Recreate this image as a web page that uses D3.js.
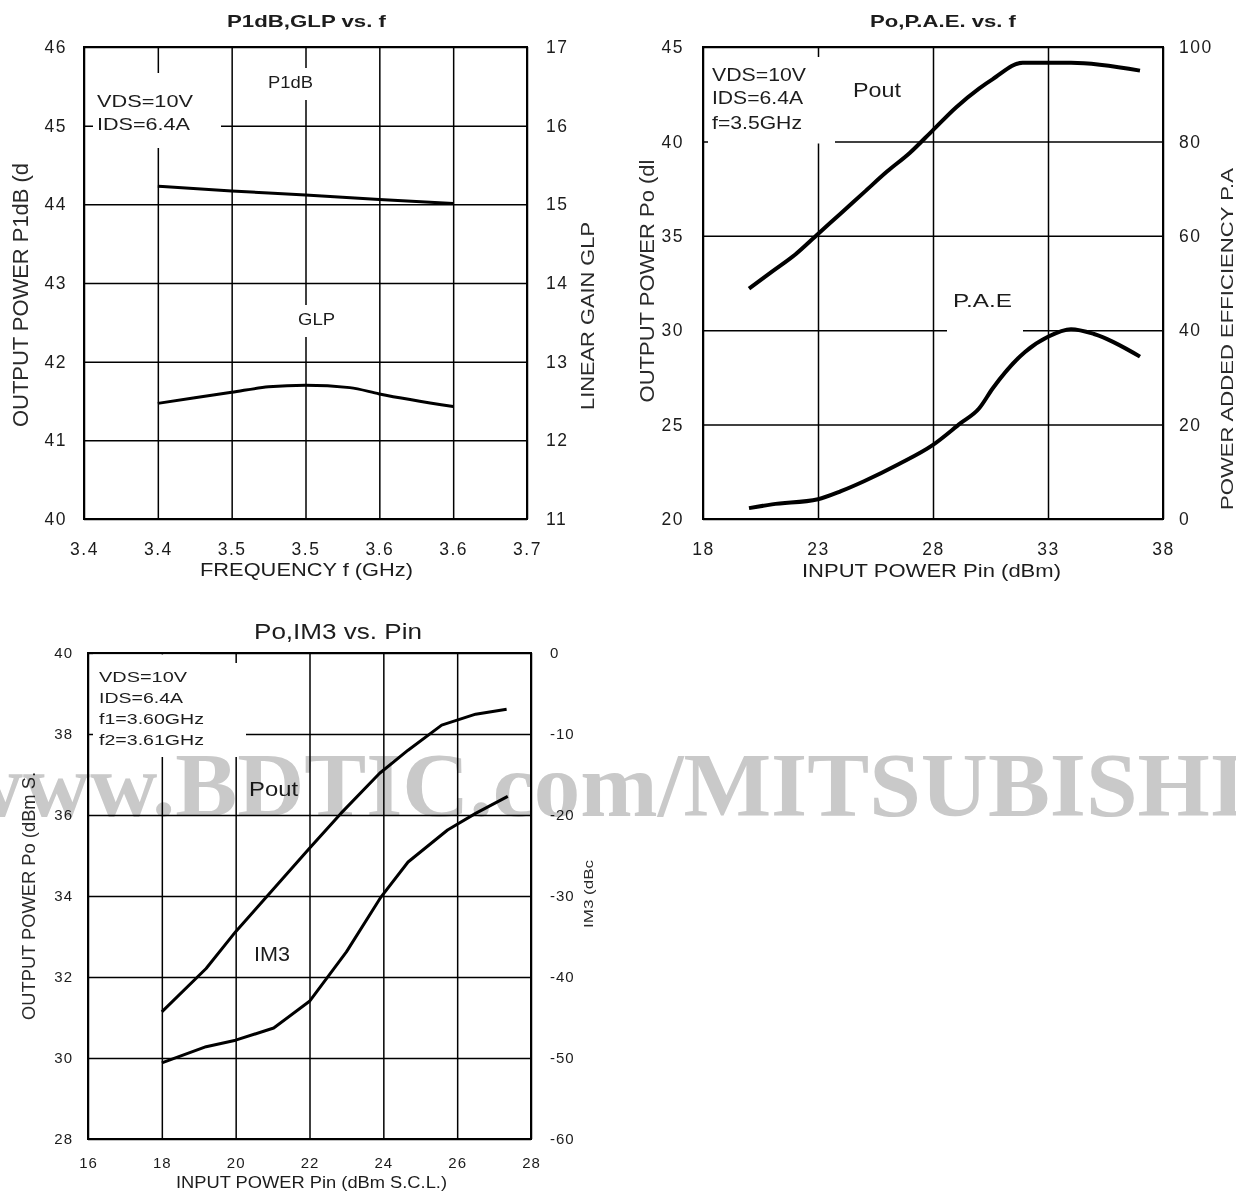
<!DOCTYPE html>
<html><head><meta charset="utf-8">
<script src="https://cdn.jsdelivr.net/npm/d3@7"></script>
<style>
body{margin:0;background:#fff}
svg{display:block}
</style>
</head><body>
<svg id="c" width="1236" height="1192"></svg>
<script>
// ---------- Chart 1 : P1dB, GLP vs. f ----------
const c1FreqTicks = [3.35, 3.40, 3.45, 3.50, 3.55, 3.60, 3.65];
const c1FreqLabels = ["3.4", "3.4", "3.5", "3.5", "3.6", "3.6", "3.7"];
const c1P1dBTicks = [40, 41, 42, 43, 44, 45, 46];
const c1GLPTicks = [11, 12, 13, 14, 15, 16, 17];
const p1dbFreq = [3.40, 3.45, 3.50, 3.55, 3.60];
const p1dbValues = [44.23, 44.17, 44.12, 44.06, 44.01];
const glpFreq = [3.40, 3.45, 3.475, 3.50, 3.53, 3.55, 3.60];
const glpValues = [12.47, 12.61, 12.68, 12.70, 12.67, 12.59, 12.43];

// ---------- Chart 2 : Po, P.A.E. vs. Pin ----------
const c2PinTicks = [18, 23, 28, 33, 38];
const c2PoTicks = [20, 25, 30, 35, 40, 45];
const c2PAETicks = [0, 20, 40, 60, 80, 100];
const poutPin = [20, 21, 22, 23, 24, 25, 26, 27, 28, 29, 30, 30.6, 31.9, 34, 37];
const poutValues = [32.2, 33.1, 34.0, 35.1, 36.2, 37.3, 38.4, 39.4, 40.6, 41.8, 42.8, 43.3, 44.17, 44.17, 43.75];
const paePin = [20, 21, 23, 24, 25, 26.5, 28, 29.2, 30, 30.6, 32, 33, 34, 35, 37];
const paeValues = [2.3, 3.1, 4.2, 5.9, 8.0, 11.6, 15.7, 20.3, 23.4, 27.7, 35.4, 38.6, 40.2, 39.2, 34.4];

// ---------- Chart 3 : Po, IM3 vs. Pin ----------
const c3PinTicks = [16, 18, 20, 22, 24, 26, 28];
const c3PoTicks = [28, 30, 32, 34, 36, 38, 40];
const c3IM3Ticks = [-60, -50, -40, -30, -20, -10, 0];
const imPoutPin = [18, 19.2, 20, 21, 22, 22.85, 23.9, 24.67, 25.58, 26.5, 27.34];
const imPoutValues = [31.14, 32.21, 33.12, 34.15, 35.18, 36.04, 37.03, 37.6, 38.22, 38.49, 38.61];
const im3Pin = [18, 19.2, 20, 21.03, 22, 23, 23.94, 24.67, 25.74, 26.5, 27.37];
const im3Values = [-50.6, -48.6, -47.8, -46.3, -43.0, -36.9, -30.1, -25.8, -21.85, -19.8, -17.7];

const SANS = "'Liberation Sans',Arial,sans-serif";
const svg = d3.select("#c");

function grid(cfg) {
  const g = svg.append("g");
  const [x0, x1] = cfg.x.range();
  const [yb, yt] = cfg.yL.range();
  const style = (sel, fs, ls) => {
    sel.select(".domain").remove();
    sel.selectAll("line").attr("stroke", "#000").attr("stroke-width", 1.5);
    sel.selectAll("text").style("font-size", fs + "px").style("letter-spacing", ls + "px")
      .style("fill", "#1c1c1c").style("font-family", SANS);
  };
  const fmt = d => String(d);
  g.append("g").attr("transform", `translate(0,${yb})`)
    .call(d3.axisBottom(cfg.x).tickValues(cfg.xTicks)
      .tickFormat((d, i) => cfg.xLabels ? cfg.xLabels[i] : fmt(d))
      .tickSize(-(yb - yt)).tickPadding(cfg.xPad))
    .call(s => style(s, cfg.fs, cfg.ls));
  g.append("g").attr("transform", `translate(${x0},0)`)
    .call(d3.axisLeft(cfg.yL).tickValues(cfg.yLTicks).tickFormat(fmt)
      .tickSize(-(x1 - x0)).tickPadding(cfg.yLPad))
    .call(s => style(s, cfg.fs, cfg.ls));
  g.append("g").attr("transform", `translate(${x1},0)`)
    .call(d3.axisRight(cfg.yR).tickValues(cfg.yRTicks).tickFormat(fmt)
      .tickSize(0).tickPadding(cfg.yRPad))
    .call(s => style(s, cfg.fs, cfg.ls));
  g.append("rect").attr("x", x0).attr("y", yt).attr("width", x1 - x0).attr("height", yb - yt)
    .attr("fill", "none").attr("stroke", "#000").attr("stroke-width", 2);
  return g;
}
function box(x, y, w, h) {
  svg.append("rect").attr("x", x).attr("y", y).attr("width", w).attr("height", h).attr("fill", "#fff");
}
function label(t, x, y, w, fs, bold) {
  svg.append("text").attr("x", x).attr("y", y)
    .style("font-family", SANS).style("font-size", fs + "px").style("fill", "#1c1c1c")
    .style("font-weight", bold ? "bold" : "normal")
    .attr("textLength", w).attr("lengthAdjust", "spacingAndGlyphs").text(t);
}
function vlabel(t, cx, cy, len, fs, sx) {
  svg.append("g").attr("transform", `translate(${cx},${cy}) scale(${sx},1) rotate(-90)`)
    .append("text").attr("text-anchor", "middle").attr("dy", "0.36em")
    .style("font-family", SANS).style("font-size", fs + "px").style("fill", "#2a2a2a")
    .attr("textLength", len).attr("lengthAdjust", "spacingAndGlyphs").text(t);
}
function curve(x, y, xs, ys, w, cv) {
  svg.append("path").datum(xs.map((d, i) => [d, ys[i]]))
    .attr("fill", "none").attr("stroke", "#000").attr("stroke-width", w)
    .attr("stroke-linejoin", "round").attr("stroke-linecap", "butt")
    .attr("d", d3.line().x(d => x(d[0])).y(d => y(d[1])).curve(cv));
}

// ===== Chart 1 =====
const x1s = d3.scaleLinear().domain([3.35, 3.65]).range([84, 527]);
const y1L = d3.scaleLinear().domain([40, 46]).range([519, 47]);
const y1R = d3.scaleLinear().domain([11, 17]).range([519, 47]);
grid({x: x1s, yL: y1L, yR: y1R, xTicks: c1FreqTicks, xLabels: c1FreqLabels,
  yLTicks: c1P1dBTicks, yRTicks: c1GLPTicks, xPad: 23.5, yLPad: 17, yRPad: 19, fs: 17.5, ls: 1.5});
box(93, 73, 128, 75);
box(266, 68, 48, 32);
box(294, 305, 46, 32);
curve(x1s, y1L, p1dbFreq, p1dbValues, 3, d3.curveMonotoneX);
curve(x1s, y1R, glpFreq, glpValues, 3, d3.curveMonotoneX);
label("P1dB,GLP vs. f", 227, 27, 159, 17, true);
label("VDS=10V", 97, 107, 96, 17);
label("IDS=6.4A", 97, 130, 93, 17);
label("P1dB", 268, 88, 45, 16);
label("GLP", 298, 325, 37, 16);
label("FREQUENCY f (GHz)", 200, 576, 213, 18);
vlabel("OUTPUT POWER P1dB (d", 20, 295, 264, 15.5, 1.42);
vlabel("LINEAR GAIN GLP", 587, 316, 188, 15.5, 1.2);

// ===== Chart 2 =====
const x2s = d3.scaleLinear().domain([18, 38]).range([703, 1163]);
const y2L = d3.scaleLinear().domain([20, 45]).range([519, 47]);
const y2R = d3.scaleLinear().domain([0, 100]).range([519, 47]);
grid({x: x2s, yL: y2L, yR: y2R, xTicks: c2PinTicks, xLabels: null,
  yLTicks: c2PoTicks, yRTicks: c2PAETicks, xPad: 23.5, yLPad: 19, yRPad: 16, fs: 17.5, ls: 1.5});
box(708, 57, 127, 86.5);
box(947, 285, 76, 48);
curve(x2s, y2L, poutPin, poutValues, 4, d3.curveMonotoneX);
curve(x2s, y2R, paePin, paeValues, 4, d3.curveMonotoneX);
label("Po,P.A.E. vs. f", 870, 27, 146, 17, true);
label("VDS=10V", 712, 81, 94, 17.5);
label("IDS=6.4A", 712, 104, 91, 17.5);
label("f=3.5GHz", 712, 129, 90, 17.5);
label("Pout", 853, 97, 48, 20);
label("P.A.E", 953, 307, 59, 19);
label("INPUT POWER Pin (dBm)", 802, 577, 259, 18);
vlabel("OUTPUT POWER Po (dl", 647, 281, 243, 15.5, 1.26);
vlabel("POWER ADDED EFFICIENCY P.A", 1227, 339, 342, 15.5, 1.1);

// ===== Chart 3 =====
const x3s = d3.scaleLinear().domain([16, 28]).range([88, 531]);
const y3L = d3.scaleLinear().domain([28, 40]).range([1139, 653]);
const y3R = d3.scaleLinear().domain([-60, 0]).range([1139, 653]);
grid({x: x3s, yL: y3L, yR: y3R, xTicks: c3PinTicks, xLabels: null,
  yLTicks: c3PoTicks, yRTicks: c3IM3Ticks, xPad: 18.5, yLPad: 15, yRPad: 19, fs: 15, ls: 1});
box(93, 663, 153, 94);
box(93, 654.5, 107, 9);
curve(x3s, y3L, imPoutPin, imPoutValues, 3, d3.curveLinear);
curve(x3s, y3R, im3Pin, im3Values, 3, d3.curveLinear);
label("Po,IM3 vs. Pin", 254, 639, 168, 22);
label("VDS=10V", 99, 682, 88, 15);
label("IDS=6.4A", 99, 703, 84, 15);
label("f1=3.60GHz", 99, 724, 105, 15);
label("f2=3.61GHz", 99, 745, 105, 15);
label("Pout", 249, 796, 49, 21);
label("IM3", 254, 961, 36, 21);
label("INPUT POWER Pin (dBm S.C.L.)", 176, 1188, 271, 16);
vlabel("OUTPUT POWER Po (dBm S.", 29, 896, 248, 13.5, 1.3);
vlabel("IM3 (dBc", 589, 894, 68, 11, 1.1);

// ===== Watermark =====
svg.append("text").attr("x", -44).attr("y", 816)
  .style("font-family", "'Liberation Serif','Times New Roman',serif")
  .style("font-weight", "bold").style("font-size", "90px")
  .attr("textLength", 1290).attr("lengthAdjust", "spacingAndGlyphs")
  .style("fill", "#c9c9c9").style("mix-blend-mode", "multiply")
  .text("www.BDTIC.com/MITSUBISHI");
</script>
</body></html>
